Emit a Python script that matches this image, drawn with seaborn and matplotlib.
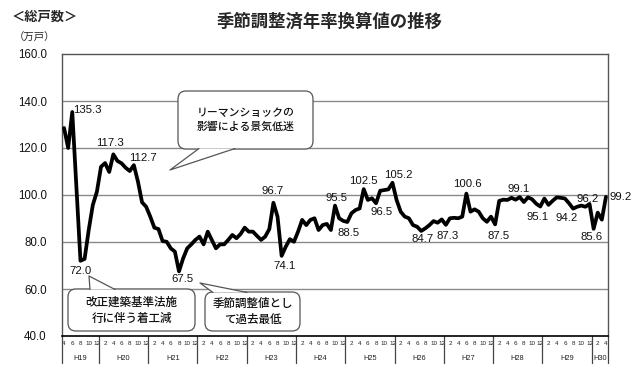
import numpy as np
import pandas as pd
import matplotlib
matplotlib.use("Agg")
import matplotlib.pyplot as plt
import seaborn as sns
from matplotlib.patches import FancyBboxPatch, Polygon
from matplotlib.lines import Line2D
import matplotlib.transforms as mtransforms

# ---------------- data ----------------
start_month = "2007-04"
end_month = "2018-04"
values = [
    128.5, 120.0, 135.3, 104.0, 72.0, 72.8, 85.0, 95.7, 101.4,              # H19 Apr-Dec
    112.0, 113.6, 109.8, 117.3, 114.5, 113.5, 111.6, 110.2, 112.7, 105.7, 96.9, 95.0,  # H20
    90.8, 86.1, 85.5, 80.4, 80.1, 77.3, 75.9, 67.5, 73.0, 77.3, 79.0, 80.9,   # H21
    82.3, 79.0, 84.4, 80.9, 77.3, 79.0, 79.0, 80.9, 83.0, 81.6, 83.4, 86.1,   # H22
    84.4, 84.4, 82.6, 80.9, 82.3, 85.5, 96.7, 90.8, 74.1, 78.0, 81.2, 80.1,   # H23
    84.4, 89.4, 87.2, 89.4, 90.1, 85.1, 87.2, 87.7, 85.1, 95.5, 90.1, 89.0,   # H24
    88.5, 92.2, 93.6, 94.3, 102.5, 97.9, 98.6, 96.5, 101.8, 102.1, 102.4, 105.2,  # H25
    97.9, 92.9, 90.8, 90.1, 87.2, 86.5, 84.7, 85.8, 87.2, 88.9, 88.2, 89.6,   # H26
    87.3, 90.1, 90.3, 90.1, 90.8, 100.6, 92.9, 93.9, 92.9, 90.1, 88.6, 90.8,  # H27
    87.5, 97.5, 98.0, 97.9, 98.8, 98.0, 99.1, 97.0, 99.0, 98.2, 96.3, 95.1,   # H28
    98.5, 95.8, 97.5, 99.0, 98.8, 98.5, 96.5, 94.2, 95.0, 95.5, 95.0, 96.2,   # H29
    85.6, 92.5, 89.5, 99.2,                                                   # H30 Jan-Apr
]
year_labels = ["H19", "H20", "H21", "H22", "H23", "H24", "H25", "H26",
               "H27", "H28", "H29", "H30"]
y_ticks = [40, 60, 80, 100, 120, 140, 160]

# labelled points: (index, text, dx_px, dy_px)
point_labels = [
    (2, "135.3", 15, 2), (4, "72.0", 0, -10), (12, "117.3", -3, 11),
    (17, "112.7", 9, 7), (28, "67.5", 3, -8), (51, "96.7", -1, 12),
    (53, "74.1", 3, -10), (66, "95.5", 1, 8), (69, "88.5", 1, -11),
    (73, "102.5", 0, 8), (76, "96.5", 6, -9), (80, "105.2", 6, 8),
    (87, "84.7", 1, -8), (93, "87.3", 2, -11), (98, "100.6", 1, 10),
    (105, "87.5", 3, -12), (111, "99.1", -1, 8), (116, "95.1", -3, -10),
    (124, "94.2", -6, -9), (128, "96.2", -2, 5), (129, "85.6", -2, -8),
    (132, "99.2", 15, 0),
]

dates = pd.date_range(start_month, end_month, freq="MS")
df = pd.DataFrame({"idx": np.arange(len(dates)), "value": values})
months = dates.month.values
years = dates.year.values

# ---------------- style ----------------
sns.set_theme(style="white")
JP = ["Noto Sans CJK JP", "DejaVu Sans"]
NUM = ["Liberation Sans", "DejaVu Sans"]
plt.rcParams["font.family"] = NUM

W, H = 640, 378
fig = plt.figure(figsize=(W / 100, H / 100), dpi=100)
fig.patch.set_facecolor("white")
L, R, T, B = 62, 608, 54, 336
ax = fig.add_axes([L / W, 1 - B / H, (R - L) / W, (B - T) / H])

sns.lineplot(data=df, x="idx", y="value", ax=ax, color="black",
             linewidth=2.7, zorder=5)
ax.set_xlim(-0.5, len(dates) - 0.5)
ax.set_ylim(40, 160)
ax.set_xlabel("")
ax.set_ylabel("")

# grid
ax.set_yticks(y_ticks)
ax.set_yticklabels([f"{v:.1f}" for v in y_ticks], fontsize=8.3,
                   fontfamily=NUM, color="#111111")
ax.tick_params(axis="y", length=0, pad=11)
for v in y_ticks[1:-1]:
    ax.axhline(v, color="#8a8a8a", lw=1.0, zorder=1)
for s in ["left", "right", "top"]:
    ax.spines[s].set_color("#555555")
    ax.spines[s].set_linewidth(1.0)
ax.spines["bottom"].set_color("black")
ax.spines["bottom"].set_linewidth(1.2)

# x ticks: month boundaries (minor) and even-month labels (major)
ax.set_xticks(np.arange(len(dates) + 1) - 0.5, minor=True)
ax.tick_params(axis="x", which="minor", direction="inout", length=11,
               width=0.8, color="#222222")
ax.set_xticks(df["idx"])
ax.set_xticklabels([str(m) if m % 2 == 0 else "" for m in months],
                   fontsize=4.5, fontfamily=NUM, color="#222222")
ax.tick_params(axis="x", which="major", length=0, pad=3.5)

# year separators and labels
trans = mtransforms.blended_transform_factory(ax.transData, ax.transAxes)
bounds = [-0.5] + [i - 0.5 for i in range(1, len(dates)) if years[i] != years[i - 1]] + [len(dates) - 0.5]
for b in bounds:
    ax.add_line(Line2D([b, b], [0, -27 / (B - T)], transform=trans,
                       color="#444444", lw=0.9, clip_on=False))
for k, lab in enumerate(year_labels):
    ax.text((bounds[k] + bounds[k + 1]) / 2, -22 / (B - T), lab, transform=trans,
            ha="center", va="center", fontsize=5.3, fontfamily=NUM, color="#222222")

# point labels
for i, txt, dx, dy in point_labels:
    ax.annotate(txt, (i, values[i]), xytext=(dx, dy), textcoords="offset pixels",
                ha="center", va="center", fontsize=8.2, fontfamily=NUM,
                color="#111111", zorder=6)

# ---------------- titles ----------------
def fpos(x, y):
    return x / W, 1 - y / H

fig.text(*fpos(330, 22), "季節調整済年率換算値の推移", ha="center", va="center",
         fontsize=12.5, fontweight="bold", fontfamily=JP)
fig.text(*fpos(12, 17), "＜総戸数＞", ha="left", va="center",
         fontsize=9.5, fontweight="bold", fontfamily=JP)
fig.text(*fpos(14, 38), "（万戸）", ha="left", va="center",
         fontsize=7.5, fontfamily=JP)

# ---------------- callouts ----------------
def callout(x0, y0, x1, y1, tail, text, fs):
    box = FancyBboxPatch(fpos(x0, y1), (x1 - x0) / W, (y1 - y0) / H,
                         boxstyle=f"round,pad=0,rounding_size={8 / W}",
                         transform=fig.transFigure, facecolor="white",
                         edgecolor="#555555", lw=0.9, zorder=20, clip_on=False)
    box.set_mutation_aspect(W / H)
    fig.add_artist(box)
    pts = [fpos(*p) for p in tail]
    fig.add_artist(Polygon(pts, closed=True, transform=fig.transFigure,
                           facecolor="white", edgecolor="none", zorder=21))
    fig.add_artist(Line2D([pts[0][0], pts[1][0], pts[2][0]],
                          [pts[0][1], pts[1][1], pts[2][1]],
                          transform=fig.transFigure, color="#555555", lw=0.9,
                          zorder=22))
    fig.text(*fpos((x0 + x1) / 2, (y0 + y1) / 2), text, ha="center", va="center",
             fontsize=fs, fontfamily=JP, linespacing=1.35, zorder=23,
             color="#111111", fontweight="medium")

callout(178, 91, 313, 149, [(199, 148.5), (170, 170), (235, 148.5)],
        "リーマンショックの\n影響による景気低迷", 7.8)
callout(68, 289, 195, 331, [(90, 289.5), (89, 276), (115, 289.5)],
        "改正建築基準法施\n行に伴う着工減", 8.3)
callout(205, 292, 300, 331, [(213, 292.5), (200, 283), (247, 292.5)],
        "季節調整値とし\nて過去最低", 8.3)

fig.savefig("out.png", dpi=100, facecolor="white")
